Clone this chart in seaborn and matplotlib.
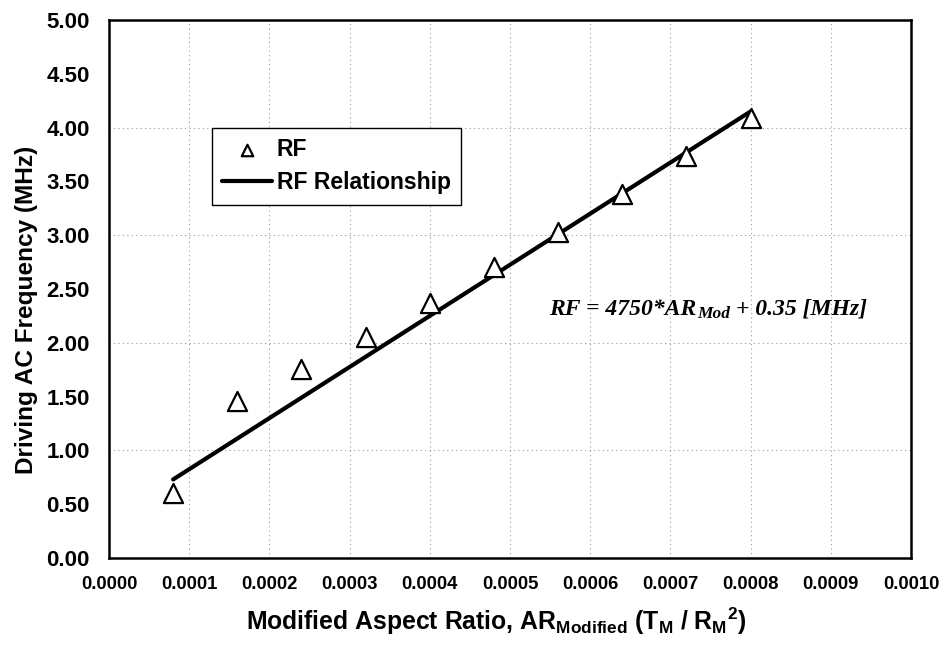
import numpy as np
import pandas as pd
import matplotlib
matplotlib.use("Agg")
import matplotlib.pyplot as plt
from matplotlib.ticker import MultipleLocator, FormatStrFormatter
import seaborn as sns

# Measured driving frequency versus modified aspect ratio
ar_modified = [0.00008, 0.00016, 0.00024, 0.00032, 0.00040,
               0.00048, 0.00056, 0.00064, 0.00072, 0.00080]
rf_mhz = [0.60, 1.46, 1.76, 2.05, 2.37, 2.70, 3.03, 3.38, 3.74, 4.09]

# Linear relationship RF = slope * AR_Mod + intercept
slope = 4750
intercept = 0.35

sns.set_theme(style="white")
plt.rcParams["font.family"] = ["Liberation Sans", "DejaVu Sans"]
plt.rcParams["font.weight"] = "bold"
plt.rcParams["text.color"] = "black"
plt.rcParams["axes.labelcolor"] = "black"
plt.rcParams["xtick.color"] = "black"
plt.rcParams["ytick.color"] = "black"
plt.rcParams["xtick.labelcolor"] = "black"
plt.rcParams["ytick.labelcolor"] = "black"
plt.rcParams["mathtext.fontset"] = "custom"
plt.rcParams["mathtext.rm"] = "Liberation Sans:bold"
plt.rcParams["mathtext.bf"] = "Liberation Sans:bold"
plt.rcParams["mathtext.default"] = "bf"

points = pd.DataFrame({"ar": ar_modified, "rf": rf_mhz})
fit = pd.DataFrame({"ar": ar_modified,
                    "rf": [slope * a + intercept for a in ar_modified]})

fig = plt.figure(figsize=(9.46, 6.45), dpi=100)
ax = fig.add_axes([0.1152, 0.1349, 0.8478, 0.8341])

sns.lineplot(data=fit, x="ar", y="rf", ax=ax, color="black", linewidth=3.0,
             label="RF Relationship", zorder=3)
sns.scatterplot(data=points, x="ar", y="rf", ax=ax, marker="^", s=190,
                facecolor="white", edgecolor="black", linewidth=1.6,
                label="RF", zorder=4)

ax.set_xlim(0, 0.001)
ax.set_ylim(0, 5)
ax.xaxis.set_major_locator(MultipleLocator(0.0001))
ax.xaxis.set_minor_locator(MultipleLocator(0.00002))
ax.xaxis.set_major_formatter(FormatStrFormatter("%.4f"))
ax.yaxis.set_major_locator(MultipleLocator(0.5))
ax.yaxis.set_minor_locator(MultipleLocator(0.1))
ax.yaxis.set_major_formatter(FormatStrFormatter("%.2f"))

# dotted grid: every x major tick, every whole MHz on y
ax.grid(False)
for xv in np.arange(0.0001, 0.00095, 0.0001):
    ax.axvline(xv, color="#9a9a9a", linestyle=(0, (1, 3)), linewidth=0.8, zorder=1)
for yv in [1, 2, 3, 4]:
    ax.axhline(yv, color="#9a9a9a", linestyle=(0, (1, 3)), linewidth=0.8, zorder=1)

ax.tick_params(axis="both", which="major", direction="out", length=5,
               width=1.2, color="black", labelcolor="black")
ax.tick_params(axis="both", which="minor", direction="in", length=4,
               width=1.0, color="black")
ax.tick_params(axis="x", which="major", labelsize=13.3, pad=8)
ax.tick_params(axis="y", which="major", labelsize=16, pad=9)
for lab in ax.get_xticklabels() + ax.get_yticklabels():
    lab.set_fontweight("bold")

for side in ["left", "right", "top", "bottom"]:
    ax.spines[side].set_visible(True)
    ax.spines[side].set_color("black")
    ax.spines[side].set_linewidth(1.8)

ax.set_xlabel(r"Modified Aspect Ratio, AR$_{Modified}$ (T$_M$ / R$_M$$^2$)",
              fontsize=17.8, fontweight="bold", color="black")
ax.xaxis.set_label_coords(0.4825, -0.088)
ax.set_ylabel("Driving AC Frequency (MHz)", fontsize=17.6, fontweight="bold",
              color="black")
ax.yaxis.set_label_coords(-0.089, 0.461)

# equation of the fitted line, in serif bold italic with a subscript
eq_font = dict(family="Liberation Serif", weight="bold", style="italic",
               color="black")
t1 = ax.text(0.000549, 2.26, "RF = 4750*AR", fontsize=17, ha="left",
             va="baseline", **eq_font)
t2 = ax.annotate("Mod", xy=(1, 0), xycoords=t1, xytext=(0.5, -1.5),
                 textcoords="offset points", fontsize=12.5, ha="left",
                 va="bottom", **eq_font)
ax.annotate(" + 0.35 [MHz]", xy=(1, 0), xycoords=(t2, t1), xytext=(0, 0),
            textcoords="offset points", fontsize=17, ha="left",
            va="bottom", **eq_font)

handles, labels = ax.get_legend_handles_labels()
order = [labels.index("RF"), labels.index("RF Relationship")]
leg = ax.legend([handles[i] for i in order], [labels[i] for i in order],
                loc="upper left", bbox_to_anchor=(0.128, 0.80),
                borderaxespad=0, frameon=True, fancybox=False, framealpha=1,
                edgecolor="black", fontsize=16.5, handlelength=2.2,
                handletextpad=0.2, borderpad=0.45, labelspacing=0.45,
                markerscale=0.6, labelcolor="black")
leg.get_frame().set_linewidth(1.0)
for t in leg.get_texts():
    t.set_fontweight("bold")

fig.savefig("out.png", dpi=100)
